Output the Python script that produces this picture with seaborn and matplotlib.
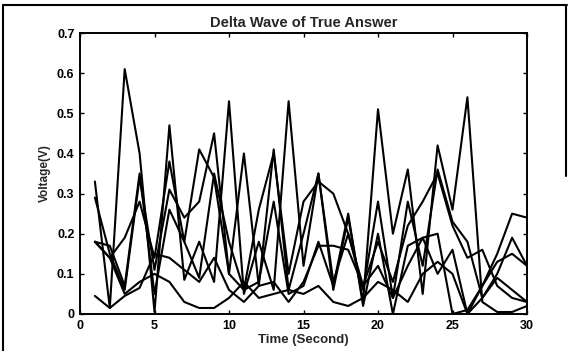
import numpy as np
import pandas as pd
import matplotlib
matplotlib.use("Agg")
import matplotlib.pyplot as plt
import seaborn as sns
from matplotlib.lines import Line2D

time = list(range(1, 31))
s1 = [0.33, 0.015, 0.61, 0.40, 0.005, 0.47, 0.085, 0.18, 0.08, 0.53, 0.05, 0.18, 0.06, 0.53, 0.12,
      0.35, 0.06, 0.24, 0.03, 0.51, 0.20, 0.36, 0.05, 0.42, 0.26, 0.54, 0.03, 0.005, 0.005, 0.02]
s2 = [0.29, 0.15, 0.06, 0.34, 0.11, 0.31, 0.24, 0.28, 0.45, 0.10, 0.40, 0.07, 0.41, 0.06, 0.20,
      0.35, 0.08, 0.20, 0.06, 0.28, 0.04, 0.28, 0.12, 0.36, 0.23, 0.18, 0.04, 0.10, 0.19, 0.12]
s3 = [0.18, 0.17, 0.07, 0.35, 0.05, 0.26, 0.18, 0.09, 0.35, 0.18, 0.06, 0.26, 0.40, 0.10, 0.28,
      0.33, 0.30, 0.20, 0.07, 0.18, 0.08, 0.22, 0.28, 0.35, 0.22, 0.14, 0.16, 0.07, 0.04, 0.03]
s4 = [0.18, 0.14, 0.19, 0.28, 0.14, 0.38, 0.18, 0.41, 0.34, 0.10, 0.06, 0.08, 0.28, 0.05, 0.07,
      0.18, 0.07, 0.25, 0.02, 0.20, 0.0, 0.17, 0.19, 0.20, 0.0, 0.01, 0.07, 0.13, 0.15, 0.12]
s5 = [0.045, 0.015, 0.045, 0.065, 0.15, 0.14, 0.11, 0.08, 0.14, 0.06, 0.03, 0.07, 0.08, 0.03, 0.08,
      0.17, 0.17, 0.16, 0.07, 0.12, 0.04, 0.12, 0.19, 0.10, 0.16, 0.0, 0.07, 0.15, 0.25, 0.24]
s6 = [0.18, 0.14, 0.05, 0.08, 0.10, 0.08, 0.03, 0.015, 0.015, 0.04, 0.08, 0.04, 0.05, 0.06, 0.05,
      0.07, 0.03, 0.02, 0.04, 0.08, 0.06, 0.03, 0.10, 0.13, 0.10, 0.0, 0.04, 0.09, 0.06, 0.03]

series = {"s1": s1, "s2": s2, "s3": s3, "s4": s4, "s5": s5, "s6": s6}
frames = [pd.DataFrame({"Time": time, "Voltage": v, "Series": k}) for k, v in series.items()]
df = pd.concat(frames, ignore_index=True)

sns.set_style("ticks")
plt.rcParams['font.family'] = ['Liberation Sans', 'DejaVu Sans']
plt.rcParams['font.weight'] = 'bold'

fig = plt.figure(figsize=(5.70, 3.51), dpi=100)
ax = fig.add_axes([80/570, 37/351, 447/570, 281/351])
sns.lineplot(data=df, x="Time", y="Voltage", hue="Series", units="Series", estimator=None,
             palette=["black"] * 6, linewidth=1.5, legend=False, ax=ax)

ax.set_xlim(0, 30)
ax.set_ylim(0, 0.7)
ax.set_xticks([0, 5, 10, 15, 20, 25, 30])
ax.set_yticks([0, 0.1, 0.2, 0.3, 0.4, 0.5, 0.6, 0.7])
ax.set_yticklabels(["0", "0.1", "0.2", "0.3", "0.4", "0.5", "0.6", "0.7"])
ax.tick_params(direction="in", top=True, right=True, length=3, width=1, labelsize=9,
               colors="black", pad=4)
for lab in ax.get_xticklabels() + ax.get_yticklabels():
    lab.set_fontweight("bold")
for sp in ax.spines.values():
    sp.set_visible(True)
    sp.set_linewidth(1.4)
    sp.set_color("black")
ax.set_title("Delta Wave of True Answer", fontsize=10.5, fontweight="bold", pad=4)
ax.set_xlabel("Time (Second)", fontsize=9.5, fontweight="bold", labelpad=2)
ax.set_ylabel("Voltage(V)", fontsize=8.5, fontweight="bold", labelpad=4)

# scanned page frame
fig.add_artist(Line2D([0.005, 0.005], [0.0, 0.985], transform=fig.transFigure, color="black", lw=1.5))
fig.add_artist(Line2D([0.005, 0.995], [0.985, 0.985], transform=fig.transFigure, color="black", lw=1.5))
fig.add_artist(Line2D([0.993, 0.993], [0.5, 0.985], transform=fig.transFigure, color="black", lw=1.5))

fig.savefig("out.png", dpi=100)
